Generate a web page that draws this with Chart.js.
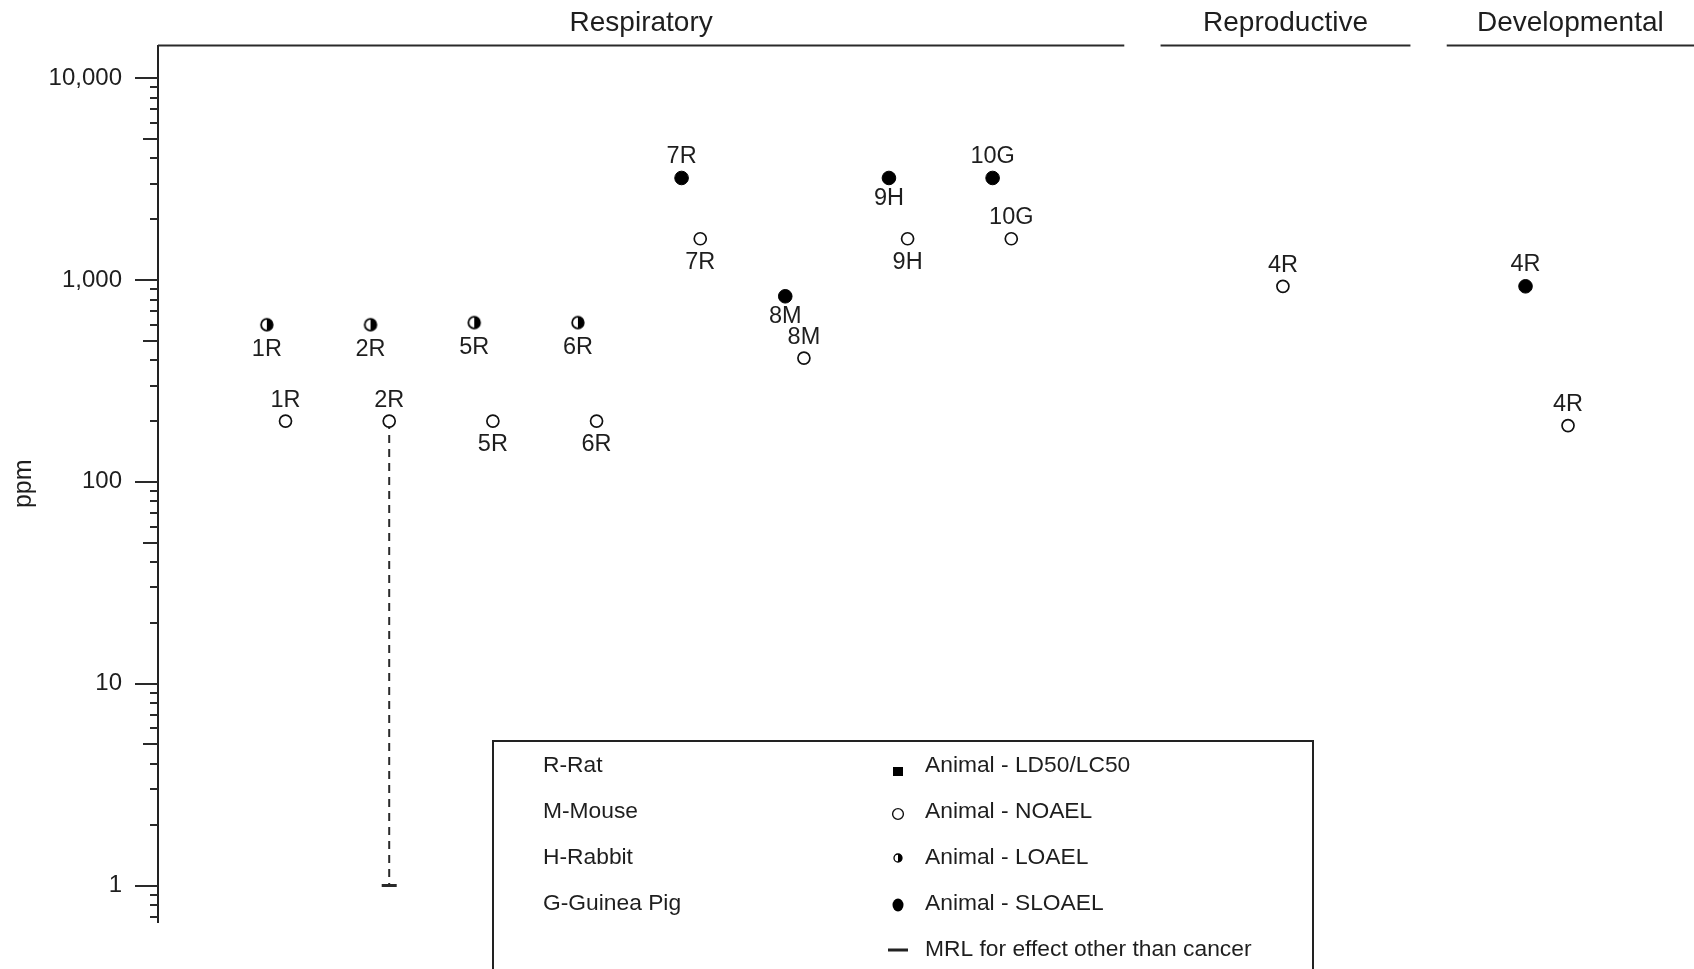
<!DOCTYPE html>
<html>
<head>
<meta charset="utf-8">
<script src="https://cdn.jsdelivr.net/npm/chart.js@4.4.1/dist/chart.umd.min.js"></script>
<style>
  html, body { margin: 0; padding: 0; background: #fff; }
  canvas { display: block; }
</style>
</head>
<body>
<canvas id="lse" width="1694" height="969"></canvas>
<script>
// Levels of significant exposure, inhalation (ppm), by study column
const pointLabels  = ['1R','1R','2R','2R','5R','5R','6R','6R','7R','7R','8M','8M','9H','9H','10G','10G','4R','4R','4R'];
const pointColumns = [1, 1.18, 2, 2.18, 3, 3.18, 4, 4.18, 5, 5.18, 6, 6.18, 7, 7.18, 8, 8.18, 10.8, 13.14, 13.55];
const pointPpm     = [600, 200, 600, 200, 615, 200, 615, 200, 3200, 1600, 830, 410, 3200, 1600, 3200, 1600, 930, 930, 190];
const pointEffect  = ['LOAEL','NOAEL','LOAEL','NOAEL','LOAEL','NOAEL','LOAEL','NOAEL',
                      'SLOAEL','NOAEL','SLOAEL','NOAEL','SLOAEL','NOAEL','SLOAEL','NOAEL',
                      'NOAEL','SLOAEL','NOAEL'];
const labelSide    = ['below','above','below','above','below','below','below','below',
                      'above','below','below','above','below','below','above','above',
                      'above','above','above'];

// Minimal risk level, derived from study 2R
const mrlColumn = 2.18;
const mrlFromPpm = 200;
const mrlPpm = 1;

// Endpoint groups along the top
const sectionNames = ['Respiratory', 'Reproductive', 'Developmental'];
const sectionFrom  = [-0.05, 9.62, 12.38];
const sectionTo    = [9.27, 12.03, 14.765];

// Axis ticks (ppm)
const yTicks = [1, 10, 100, 1000, 10000];

// Key text
const speciesKey = ['R-Rat', 'M-Mouse', 'H-Rabbit', 'G-Guinea Pig'];
const effectKey  = ['Animal - LD50/LC50', 'Animal - NOAEL', 'Animal - LOAEL', 'Animal - SLOAEL', 'MRL for effect other than cancer'];

const FONT = '"Liberation Sans", Arial, Helvetica, sans-serif';
const INK = '#1e1e1e';

// Half-filled (right side) disc used for LOAEL points
function halfDisc(r, lw) {
  const s = Math.ceil(2 * r + lw + 2);
  const c = document.createElement('canvas');
  c.width = s; c.height = s;
  const g = c.getContext('2d');
  const m = s / 2;
  g.beginPath(); g.arc(m, m, r, 0, Math.PI * 2); g.fillStyle = '#fff'; g.fill();
  g.beginPath(); g.moveTo(m, m - r); g.arc(m, m, r, -Math.PI / 2, Math.PI / 2); g.closePath();
  g.fillStyle = '#000'; g.fill();
  g.beginPath(); g.arc(m, m, r, 0, Math.PI * 2); g.lineWidth = lw; g.strokeStyle = '#000'; g.stroke();
  return c;
}

function pointsFor(effect) {
  const out = [];
  pointPpm.forEach((v, i) => {
    if (pointEffect[i] === effect) {
      out.push({ x: pointColumns[i], y: v, tag: pointLabels[i], side: labelSide[i] });
    }
  });
  return out;
}

// Section headers with rules along the top of the plot
const sectionHeaders = {
  id: 'sectionHeaders',
  afterDraw(chart) {
    const { ctx, chartArea, scales: { x } } = chart;
    ctx.save();
    ctx.strokeStyle = '#2a2a2a';
    ctx.lineWidth = 2;
    ctx.fillStyle = INK;
    ctx.font = '28px ' + FONT;
    ctx.textAlign = 'center';
    ctx.textBaseline = 'alphabetic';
    sectionNames.forEach((name, i) => {
      const a = x.getPixelForValue(sectionFrom[i]);
      const b = x.getPixelForValue(sectionTo[i]);
      ctx.beginPath();
      ctx.moveTo(a, chartArea.top);
      ctx.lineTo(b, chartArea.top);
      ctx.stroke();
      ctx.fillText(name, (a + b) / 2, chartArea.top - 15);
    });
    ctx.restore();
  }
};

// Log-axis tick marks: long at decades, medium at 5s, short elsewhere
const logTickMarks = {
  id: 'logTickMarks',
  afterDraw(chart) {
    const { ctx, scales: { y } } = chart;
    const x0 = y.right;
    ctx.save();
    ctx.strokeStyle = '#2a2a2a';
    ctx.lineWidth = 2;
    for (let k = -1; k <= 4; k++) {
      for (let m = 1; m <= 9; m++) {
        const v = m * Math.pow(10, k);
        if (v < y.min || v > y.max) continue;
        const py = Math.round(y.getPixelForValue(v));
        const len = m === 1 ? 23 : (m === 5 ? 15 : 8);
        ctx.beginPath();
        ctx.moveTo(x0, py);
        ctx.lineTo(x0 - len, py);
        ctx.stroke();
      }
    }
    ctx.restore();
  }
};

// Study labels next to each point
const pointTags = {
  id: 'pointTags',
  afterDatasetsDraw(chart) {
    const ctx = chart.ctx;
    ctx.save();
    ctx.font = '23.5px ' + FONT;
    ctx.fillStyle = INK;
    ctx.textAlign = 'center';
    ctx.textBaseline = 'middle';
    chart.data.datasets.forEach((ds, i) => {
      if (!ds.tagged) return;
      chart.getDatasetMeta(i).data.forEach((el, j) => {
        const d = ds.data[j];
        const dy = d.side === 'above' ? -ds.tagGap[0] : ds.tagGap[1];
        ctx.fillText(d.tag, el.x, el.y + dy);
      });
    });
    ctx.restore();
  }
};

// Boxed key of species codes and effect symbols
const keyBox = {
  id: 'keyBox',
  afterDraw(chart) {
    const ctx = chart.ctx;
    const left = 493, top = 741, right = 1313;
    const rows = [766, 812, 858, 904, 950];
    const symX = 898, leftTextX = 543, rightTextX = 925;
    ctx.save();
    ctx.fillStyle = '#fff';
    ctx.fillRect(left, top, right - left, chart.height - top + 5);
    ctx.strokeStyle = '#222';
    ctx.lineWidth = 2;
    ctx.strokeRect(left, top, right - left, chart.height - top + 20);

    ctx.font = '22.8px ' + FONT;
    ctx.fillStyle = INK;
    ctx.textAlign = 'left';
    ctx.textBaseline = 'middle';
    speciesKey.forEach((t, i) => ctx.fillText(t, leftTextX, rows[i]));
    effectKey.forEach((t, i) => ctx.fillText(t, rightTextX, rows[i]));

    // LD50/LC50 square
    ctx.fillStyle = '#000';
    ctx.fillRect(symX - 5, rows[0] + 1, 10, 9);
    // NOAEL open circle
    ctx.beginPath(); ctx.arc(symX, rows[1] + 2, 5.4, 0, Math.PI * 2);
    ctx.lineWidth = 1.4; ctx.strokeStyle = '#111'; ctx.stroke();
    // LOAEL half disc
    const hd = halfDisc(4, 1.3);
    ctx.drawImage(hd, symX - hd.width / 2, rows[2] - hd.height / 2);
    // SLOAEL filled disc
    ctx.beginPath(); ctx.ellipse(symX, rows[3] + 1, 5.5, 6.5, 0, 0, Math.PI * 2);
    ctx.fillStyle = '#000'; ctx.fill();
    // MRL dash
    ctx.fillStyle = '#222';
    ctx.fillRect(symX - 10, rows[4] - 1.5, 20, 3);
    ctx.restore();
  }
};

new Chart(document.getElementById('lse'), {
  data: {
    datasets: [
      {
        type: 'line',
        data: [{ x: mrlColumn, y: mrlFromPpm }, { x: mrlColumn, y: mrlPpm }],
        borderColor: '#2a2a2a',
        borderWidth: 2,
        borderDash: [8, 6],
        pointRadius: 0,
        fill: false,
        order: 10
      },
      {
        type: 'scatter',
        data: [{ x: mrlColumn, y: mrlPpm }],
        pointStyle: 'line',
        radius: 7.5,
        borderWidth: 3,
        borderColor: '#2a2a2a',
        order: 9
      },
      {
        type: 'scatter',
        data: pointsFor('NOAEL'),
        tagged: true,
        tagGap: [21, 23.5],
        pointStyle: 'circle',
        radius: 6,
        backgroundColor: '#fff',
        borderColor: '#111',
        borderWidth: 1.7,
        order: 1
      },
      {
        type: 'scatter',
        data: pointsFor('LOAEL'),
        tagged: true,
        tagGap: [21, 25],
        pointStyle: halfDisc(5.8, 1.8),
        radius: 6,
        order: 1
      },
      {
        type: 'scatter',
        data: pointsFor('SLOAEL'),
        tagged: true,
        tagGap: [21.5, 20.5],
        pointStyle: 'circle',
        radius: 6.8,
        backgroundColor: '#000',
        borderColor: '#000',
        borderWidth: 1,
        order: 1
      }
    ]
  },
  options: {
    responsive: false,
    animation: false,
    devicePixelRatio: 1,
    layout: { padding: { left: 0, right: 0, top: 45.5, bottom: 47 }, autoPadding: false },
    plugins: { legend: { display: false }, tooltip: { enabled: false } },
    scales: {
      x: {
        type: 'linear',
        display: false,
        min: -0.05,
        max: 14.765
      },
      y: {
        type: 'logarithmic',
        min: 0.66,
        max: 14500,
        afterFit(scale) {
          scale.width = 158;
          scale.paddingTop = 0;
          scale.paddingBottom = 0;
        },
        afterBuildTicks(scale) { scale.ticks = yTicks.map(v => ({ value: v, major: true })); },
        border: { display: true, color: '#222', width: 2 },
        grid: { display: true, drawOnChartArea: false, drawTicks: false },
        ticks: {
          autoSkip: false,
          padding: 36,
          color: INK,
          font: { family: FONT, size: 24 },
          callback: (v) => Number(v).toLocaleString('en-US')
        },
        title: {
          display: true,
          text: 'ppm',
          color: INK,
          font: { family: FONT, size: 25 },
          padding: { top: 9, bottom: 0 }
        }
      }
    }
  },
  plugins: [sectionHeaders, logTickMarks, pointTags, keyBox]
});
</script>
</body>
</html>
